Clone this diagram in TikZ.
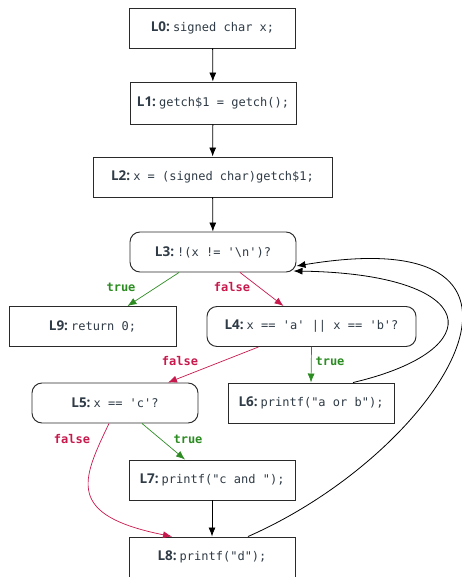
\documentclass[tikz,border=0pt]{standalone}
\usepackage{fontspec}
\setmainfont{Open Sans}
\setmonofont{DejaVu Sans Mono}
\usetikzlibrary{arrows.meta}
\definecolor{ink}{HTML}{2F3B46}
\definecolor{edge}{HTML}{2A2A2A}
\definecolor{tgreen}{HTML}{2C8C22}
\definecolor{fred}{HTML}{C8194D}
\newcommand{\lbl}[2]{{\fontsize{13.5}{15}\selectfont\textbf{#1}}\hspace{3pt}\texttt{#2}}
\begin{document}
\begin{tikzpicture}[x=1pt,y=-1pt,
  font=\fontsize{12}{14}\selectfont,
  box/.style={draw=edge, line width=0.95pt, fill=white, text=ink,
    minimum width=166pt, minimum height=40pt, inner sep=0pt},
  cond/.style={box, rounded corners=10pt},
  flow/.style={-{Latex[length=9pt,width=7pt]}, line width=0.8pt, draw=black},
  yes/.style={flow, draw=tgreen, color=tgreen, line width=0.7pt},
  no/.style={flow, draw=fred, color=fred, line width=0.7pt},
  back/.style={flow, line width=0.8pt},
  tlabel/.style={text=tgreen, font=\fontsize{12}{14}\selectfont\ttfamily\bfseries},
  flabel/.style={text=fred, font=\fontsize{12}{14}\selectfont\ttfamily\bfseries}]
\useasboundingbox (0,0) rectangle (461,577);

% blocks
\node[box] (L0) at (212.5,28) {\lbl{L0:}{signed char x;}};
\node[box, minimum height=42pt] (L1) at (213,103) {\lbl{L1:}{getch\$1 = getch();}};
\node[box, minimum width=239pt] (L2) at (212.5,177) {\lbl{L2:}{x = (signed char)getch\$1;}};
\node[cond] (L3) at (213,252) {\lbl{L3:}{!(x != '\textbackslash n')?}};
\node[box, minimum width=167pt] (L9) at (92.5,326.5) {\lbl{L9:}{return 0;}};
\node[cond, minimum width=209pt] (L4) at (311.5,326.5) {\lbl{L4:}{x == 'a' || x == 'b'?}};
\node[cond] (L5) at (115,403) {\lbl{L5:}{x == 'c'?}};
\node[box] (L6) at (311,403) {\lbl{L6:}{printf("a or b");}};
\node[box] (L7) at (212,480) {\lbl{L7:}{printf("c and ");}};
\node[box] (L8) at (212,557) {\lbl{L8:}{printf("d");}};

% straight-line flow
\draw[flow] (L0) -- (L1);
\draw[flow] (L1) -- (L2);
\draw[flow] (L2) -- (L3);
\draw[flow] (L7) -- (L8);

% branches of L3
\draw[yes] ([xshift=-34pt]L3.south) -- ([xshift=35pt]L9.north);
\draw[no] ([xshift=27pt]L3.south) -- ([xshift=-28pt]L4.north);
\node[tlabel] (t3) at (121,287) {true};
\node[flabel] (f3) at (232,287) {false};

% branches of L4
\draw[no] ([xshift=-53pt]L4.south) -- ([xshift=53pt]L5.north);
\draw[yes] (L4.south) -- (L6.north);
\node[flabel] (f4) at (180,361) {false};
\node[tlabel] (t4) at (330,361) {true};

% branches of L5
\draw[yes] ([xshift=27pt]L5.south) -- ([xshift=-27pt]L7.north);
\draw[no] ([xshift=-6pt]L5.south) .. controls (82,480) and (65,515) .. ([xshift=-40pt]L8.north);
\node[tlabel] (t5) at (188,439) {true};
\node[flabel] (f5) at (72,439) {false};

% loop back edges
\draw[back] ([xshift=42pt]L6.north) .. controls (492,350) and (482,274) .. ([xshift=-3pt,yshift=-19pt]L3.east);
\draw[back] ([xshift=36pt]L8.north) .. controls (445,450) and (585,218) .. ([yshift=-14pt]L3.east);
\end{tikzpicture}
\end{document}
